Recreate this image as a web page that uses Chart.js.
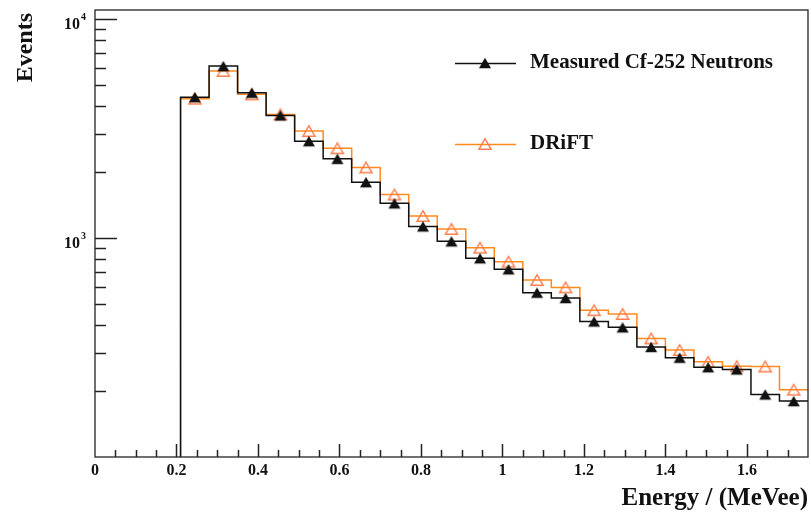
<!DOCTYPE html>
<html>
<head>
<meta charset="utf-8">
<script src="https://cdn.jsdelivr.net/npm/chart.js@4.4.1/dist/chart.umd.min.js"></script>
<style>
  html, body { margin: 0; padding: 0; background: #fff; }
  #wrap { width: 811px; height: 514px; }
</style>
</head>
<body>
<div id="wrap"><canvas id="c" width="811" height="514"></canvas></div>
<script>
// Energy bins (MeVee): centres and common width
const binCenters = [0.245, 0.315, 0.385, 0.455, 0.525, 0.595, 0.665, 0.735, 0.805, 0.875, 0.945,
                    1.015, 1.085, 1.155, 1.225, 1.295, 1.365, 1.435, 1.505, 1.575, 1.645, 1.715];
const binWidth = 0.07;

// Event counts per bin
const measured = [4400, 6100, 4610, 3630, 2770, 2300, 1800, 1440, 1130, 966, 808,
                  720, 563, 532, 416, 391, 318, 284, 257, 251, 193, 180];
const drift    = [4330, 5790, 4530, 3670, 3080, 2570, 2100, 1580, 1260, 1100, 904,
                  780, 643, 595, 468, 450, 348, 308, 272, 260, 259, 203];

// Axis ticks
const xMajorTicks = [0, 0.2, 0.4, 0.6, 0.8, 1.0, 1.2, 1.4, 1.6];
const xTickLabels = ['0', '0.2', '0.4', '0.6', '0.8', '1', '1.2', '1.4', '1.6'];
const xMinorStep = 0.05;
const yTicks = [200, 300, 400, 500, 600, 700, 800, 900, 1000,
                2000, 3000, 4000, 5000, 6000, 7000, 8000, 9000, 10000];
const yMajorExponents = [3, 4];

const seriesNames = ['Measured Cf-252 Neutrons', 'DRiFT'];
const blackColor = '#111111';
const orangeLine = '#ff8a1e';
const orangeMarker = '#ff7c4c';
const SERIF = '"Liberation Serif", "Times New Roman", serif';
const Y_MIN = 100, Y_MAX = 11000;

// Step outline of a histogram: rises from the axis floor at the first edge,
// holds each bin's value across its width, ends at the last edge.
function histOutline(values) {
  const pts = [{ x: binCenters[0] - binWidth / 2, y: Y_MIN }];
  values.forEach((v, i) => pts.push({ x: binCenters[i] - binWidth / 2, y: v }));
  const last = binCenters.length - 1;
  pts.push({ x: binCenters[last] + binWidth / 2, y: values[last] });
  return pts;
}
function markers(values) {
  return values.map((v, i) => ({ x: binCenters[i], y: v }));
}

// Upward triangle marker whose bounding box is centred on the point
function triangleImage(fill, stroke) {
  const size = 16, w = 12, h = 10.5;
  const cv = document.createElement('canvas');
  cv.width = size; cv.height = size;
  const g = cv.getContext('2d');
  const cx = size / 2, cy = size / 2;
  g.beginPath();
  g.moveTo(cx, cy - h / 2);
  g.lineTo(cx + w / 2, cy + h / 2);
  g.lineTo(cx - w / 2, cy + h / 2);
  g.closePath();
  if (fill) { g.fillStyle = fill; g.fill(); }
  if (stroke) { g.strokeStyle = stroke; g.lineWidth = 1.5; g.lineJoin = 'miter'; g.stroke(); }
  return cv;
}
const filledTriangle = triangleImage(blackColor, null);
const openTriangle = triangleImage(null, orangeMarker);

const decorations = {
  id: 'decorations',
  afterDraw(chart) {
    const { ctx, chartArea: a, scales: { x, y } } = chart;
    ctx.save();

    // frame
    ctx.strokeStyle = '#222';
    ctx.lineWidth = 1.3;
    ctx.strokeRect(a.left, a.top, a.right - a.left, a.bottom - a.top);

    // x ticks pointing into the plot
    ctx.lineWidth = 1.5;
    x.ticks.forEach(t => {
      const v = t.value;
      if (v <= 0 || v >= x.max - 1e-6) return;
      const isMajor = xMajorTicks.some(m => Math.abs(m - v) < 1e-6);
      const px = Math.round(x.getPixelForValue(v)) + 0.5;
      ctx.beginPath();
      ctx.moveTo(px, a.bottom);
      ctx.lineTo(px, a.bottom - (isMajor ? 13 : 7));
      ctx.stroke();
    });

    // y ticks pointing into the plot
    y.ticks.forEach(t => {
      const v = t.value;
      const isMajor = yMajorExponents.some(e => Math.abs(Math.pow(10, e) - v) < 1e-6);
      const py = Math.round(y.getPixelForValue(v)) + 0.5;
      ctx.beginPath();
      ctx.moveTo(a.left, py);
      ctx.lineTo(a.left + (isMajor ? 22 : 11), py);
      ctx.stroke();
    });

    // x tick labels
    ctx.fillStyle = '#111';
    ctx.font = 'bold 16px ' + SERIF;
    ctx.textAlign = 'center';
    ctx.textBaseline = 'middle';
    xMajorTicks.forEach((v, i) => {
      ctx.fillText(xTickLabels[i], x.getPixelForValue(v), 471);
    });

    // y tick labels: powers of ten
    yMajorExponents.forEach(e => {
      const py = y.getPixelForValue(Math.pow(10, e));
      ctx.textBaseline = 'alphabetic';
      ctx.textAlign = 'right';
      ctx.font = 'bold 16px ' + SERIF;
      ctx.fillText('10', 80, py + 10);
      ctx.textAlign = 'left';
      ctx.font = 'bold 10px ' + SERIF;
      ctx.fillText(String(e), 81, py + 0.5);
    });

    // axis titles
    ctx.font = 'bold 25px ' + SERIF;
    ctx.textAlign = 'right';
    ctx.textBaseline = 'alphabetic';
    ctx.fillText('Energy / (MeVee)', 808, 505);

    ctx.save();
    ctx.translate(32, 13);
    ctx.rotate(-Math.PI / 2);
    ctx.font = 'bold 24px ' + SERIF;
    ctx.textAlign = 'right';
    ctx.textBaseline = 'alphabetic';
    ctx.fillText('Events', 0, 0);
    ctx.restore();

    // legend
    const entries = [
      { y: 63, line: blackColor, img: filledTriangle },
      { y: 144, line: orangeLine, img: openTriangle }
    ];
    entries.forEach((en, i) => {
      ctx.strokeStyle = en.line;
      ctx.lineWidth = 1.5;
      ctx.beginPath();
      ctx.moveTo(455, en.y + 0.5);
      ctx.lineTo(516, en.y + 0.5);
      ctx.stroke();
      ctx.drawImage(en.img, 485 - en.img.width / 2, en.y - en.img.height / 2);
      ctx.fillStyle = '#111';
      ctx.font = 'bold 21px ' + SERIF;
      ctx.textAlign = 'left';
      ctx.textBaseline = 'middle';
      ctx.fillText(seriesNames[i], 530, en.y);
    });

    ctx.restore();
  }
};

new Chart(document.getElementById('c'), {
  type: 'line',
  data: {
    datasets: [
      {
        label: seriesNames[0] + ' markers',
        data: markers(measured),
        showLine: false,
        pointStyle: filledTriangle,
        pointRadius: 6,
        order: 0
      },
      {
        label: seriesNames[0],
        data: histOutline(measured),
        stepped: 'before',
        borderColor: blackColor,
        borderWidth: 1.5,
        pointRadius: 0,
        fill: false,
        order: 1
      },
      {
        label: seriesNames[1] + ' markers',
        data: markers(drift),
        showLine: false,
        pointStyle: openTriangle,
        pointRadius: 6,
        order: 2
      },
      {
        label: seriesNames[1],
        data: histOutline(drift),
        stepped: 'before',
        borderColor: orangeLine,
        borderWidth: 1.5,
        pointRadius: 0,
        fill: false,
        order: 3
      }
    ]
  },
  options: {
    responsive: false,
    animation: false,
    events: [],
    layout: { autoPadding: false, padding: { top: 10, right: 3, left: 0, bottom: 0 } },
    plugins: { legend: { display: false }, tooltip: { enabled: false } },
    scales: {
      x: {
        type: 'linear',
        min: 0,
        max: 1.75,
        ticks: { display: false, stepSize: xMinorStep },
        grid: { display: false },
        border: { display: false },
        afterFit(s) { s.height = 57; }
      },
      y: {
        type: 'logarithmic',
        min: Y_MIN,
        max: Y_MAX,
        ticks: { display: false },
        grid: { display: false },
        border: { display: false },
        afterBuildTicks(s) { s.ticks = yTicks.map(v => ({ value: v })); },
        afterFit(s) { s.width = 95; }
      }
    }
  },
  plugins: [decorations]
});
</script>
</body>
</html>
